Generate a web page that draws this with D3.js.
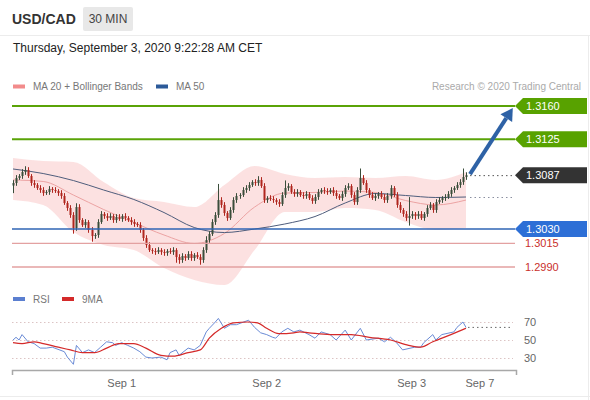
<!DOCTYPE html>
<html><head><meta charset="utf-8">
<script src="https://cdn.jsdelivr.net/npm/d3@7"></script>
<style>
html,body{margin:0;padding:0;background:#fff;}
svg{display:block;font-family:"Liberation Sans",Arial,sans-serif;}
</style></head><body>
<svg id="c" width="590" height="400"></svg>
<script>
// ---------- DATA ----------
const open0 = 1.30760;
const closes = [
1.30787,1.30840,1.30861,1.30903,1.30924,1.30861,1.30787,1.30766,1.30734,1.30713,
1.30681,1.30692,1.30724,1.30713,1.30702,1.30681,1.30650,1.30576,1.30523,1.30449,
1.30312,1.30533,1.30396,1.30343,1.30375,1.30291,1.30227,1.30238,1.30375,1.30460,
1.30438,1.30417,1.30438,1.30396,1.30428,1.30407,1.30438,1.30417,1.30396,1.30375,
1.30354,1.30343,1.30291,1.30206,1.30132,1.30079,1.30069,1.30058,1.30079,1.30058,
1.30048,1.30069,1.30058,1.30079,1.30005,1.29974,1.30016,1.29995,1.30037,1.29995,
1.30027,1.30005,1.29974,1.30079,1.30185,1.30248,1.30375,1.30449,1.30607,1.30555,
1.30470,1.30417,1.30502,1.30607,1.30650,1.30660,1.30713,1.30734,1.30766,1.30797,
1.30787,1.30819,1.30755,1.30607,1.30628,1.30618,1.30607,1.30586,1.30565,1.30660,
1.30734,1.30755,1.30692,1.30671,1.30692,1.30660,1.30650,1.30671,1.30628,1.30597,
1.30639,1.30692,1.30713,1.30702,1.30692,1.30713,1.30681,1.30650,1.30628,1.30671,
1.30734,1.30755,1.30660,1.30586,1.30713,1.30840,1.30787,1.30713,1.30660,1.30628,
1.30650,1.30671,1.30639,1.30607,1.30650,1.30734,1.30660,1.30555,1.30502,1.30460,
1.30417,1.30438,1.30460,1.30438,1.30460,1.30417,1.30460,1.30523,1.30555,1.30502,
1.30586,1.30607,1.30628,1.30639,1.30671,1.30713,1.30734,1.30766,1.30797,1.30850,
1.30870];
// wick lengths beyond the body, in pips
const wickUp = [
3,3,2,3,4,3,2,3,2,3, 3,2,3,2,3,2,3,3,2,3, 3,4,3,2,3,2,3,2,3,3, 2,3,3,2,3,3,2,3,2,3,
3,2,3,2,3,3,2,3,3,2, 3,2,3,3,2,3,3,2,3,3, 2,3,3,3,4,3,3,3,17,3, 3,2,3,3,3,2,3,3,3,2,
3,4,3,3,2,3,3,2,3,3, 8,3,2,3,3,2,3,3,2,3, 3,3,2,3,3,2,3,3,2,3, 3,3,2,3,3,10,3,3,2,3,
3,2,3,3,3,3,2,3,3,2, 3,20,3,2,3,3,2,3,3,2, 3,3,2,3,3,3,2,3,3,9, 3];
const wickDn = [
8,3,2,3,3,2,3,3,2,3, 3,2,3,3,2,3,3,2,3,3, 6,3,3,2,3,3,6,3,3,2, 3,3,2,3,3,2,3,3,2,3,
3,2,3,3,3,2,3,3,2,3, 3,3,2,3,6,4,3,3,2,3, 3,2,5,3,3,3,2,3,3,3, 3,3,2,3,3,3,2,3,3,2,
3,3,2,3,3,2,3,3,3,2, 3,3,2,3,3,2,3,3,2,3, 3,3,2,3,3,2,3,3,2,3, 3,2,3,3,3,3,2,3,3,2,
3,3,2,3,3,3,2,3,3,3, 3,8,3,4,3,2,3,3,2,3, 3,2,3,3,2,3,3,2,3,3, 3];
// indicator readings every 10 candles
const indIdx  = [0,10,20,30,40,50,60,70,80,90,100,110,120,130,140,150];
const ma20    = [1.30819,1.30803,1.30660,1.30507,1.30370,1.30238,1.30148,1.30254,1.30533,1.30681,1.30687,1.30702,1.30687,1.30602,1.30555,1.30607];
const bbUpper = [1.31051,1.31019,1.31009,1.30797,1.30628,1.30586,1.30533,1.30766,1.30966,1.30882,1.30840,1.30850,1.30840,1.30861,1.30819,1.30903];
const bbLower = [1.30607,1.30555,1.30269,1.30132,1.30079,1.29889,1.29763,1.29710,1.30079,1.30481,1.30481,1.30523,1.30502,1.30375,1.30291,1.30312];
const ma50    = [1.30935,1.30887,1.30813,1.30713,1.30613,1.30475,1.30317,1.30264,1.30301,1.30354,1.30433,1.30576,1.30676,1.30655,1.30634,1.30639];
// RSI panel
const rsiIdx = [0,1,2,3,5,7,9,11,13,17,18,20,21,23,25,27,29,31,33,34,36,38,40,42,44,46,49,51,52,54,55,58,60,62,64,65,67,68,70,72,74,78,80,82,84,86,87,89,91,93,95,98,100,102,105,107,110,112,115,117,121,123,125,127,129,133,135,136,139,140,142,146,147,149,150];
const rsiVal = [50,53,50,56,48,46,41,41,42,37,31,23,44,36,39,36,42,48,47,44,47,44,41,37,31,30,31,28,36,39,33,41,39,44,59,63,70,74,63,67,67,72,64,58,56,53,52,59,63,59,61,56,52,59,56,50,61,50,63,50,52,48,53,47,39,42,42,47,56,50,56,59,64,70,64];
const ma9Idx = [0,3,7,10,15,19,23,27,31,35,40,44,49,53,58,62,65,69,73,78,81,84,88,93,95,98,105,112,118,125,131,135,139,145,150];
const ma9Val = [47,46,48,46,42,39,36,36,41,46,46,41,33,32,36,39,52,63,69,70,69,63,57,58,59,58,56,56,53,50,44,42,48,56,63];
const rsiTicks = [70,50,30];
// key levels
const resistances = [1.3160, 1.3125];
const pivot = 1.3030;
const supports = [1.3015, 1.2990];
const lastPrice = 1.3087;
const target = 1.3160;
// date axis
const dateTickIdx = [36,84,132,154.6];
const dateTickLbl = ["Sep 1","Sep 2","Sep 3","Sep 7"];
const title = "USD/CAD", period = "30 MIN";
const stamp = "Thursday, September 3, 2020 9:22:28 AM CET";

// ---------- SCALES ----------
const svg = d3.select('#c');
const x = d3.scaleLinear().domain([0,150]).range([13,466]);
const y = d3.scaleLinear().domain([1.2990,1.3160]).range([267,106]);
const ry = d3.scaleLinear().domain([30,70]).range([358,322]);
const fmt = d3.format('.4f');

// ---------- FRAME / HEADER ----------
svg.append('rect').attr('width',590).attr('height',400).attr('fill','#fff');
svg.append('line').attr('x1',0).attr('x2',590).attr('y1',35.5).attr('y2',35.5).attr('stroke','#ececec');
svg.append('line').attr('x1',588.5).attr('x2',588.5).attr('y1',36).attr('y2',400).attr('stroke','#ececec');
svg.append('line').attr('x1',0).attr('x2',590).attr('y1',396.5).attr('y2',396.5).attr('stroke','#ececec');
svg.append('text').attr('x',12).attr('y',24).attr('font-size',14).attr('font-weight','bold').attr('fill','#333').text(title);
svg.append('rect').attr('x',83).attr('y',7).attr('width',50).attr('height',24).attr('rx',2).attr('fill','#e8e8e8');
svg.append('text').attr('x',108).attr('y',23).attr('text-anchor','middle').attr('font-size',12).attr('fill','#444').text(period);
svg.append('text').attr('x',13).attr('y',52).attr('font-size',12).attr('fill','#222').text(stamp);

// legend
const lg = [{c:'#f28b8b',t:'MA 20 + Bollinger Bands',x:13},{c:'#2c5a99',t:'MA 50',x:156}];
lg.forEach(d=>{
  svg.append('rect').attr('x',d.x).attr('y',84.5).attr('width',12).attr('height',4).attr('fill',d.c);
  svg.append('text').attr('x',d.x+20).attr('y',90).attr('font-size',10).attr('fill','#777').text(d.t);
});
svg.append('text').attr('x',581).attr('y',90).attr('text-anchor','end').attr('font-size',10).attr('fill','#aaa').text('Research \u00A9 2020 Trading Central');

// ---------- PRICE PANEL ----------
svg.append('clipPath').attr('id','pc').append('rect').attr('x',0).attr('y',95).attr('width',590).attr('height',194);
const pg = svg.append('g').attr('clip-path','url(#pc)');
const ind = indIdx.map((i,k)=>({i, m20:ma20[k], up:bbUpper[k], lo:bbLower[k], m50:ma50[k]}));
pg.append('path').datum(ind).attr('fill','#fcdede').attr('opacity',0.9)
  .attr('d',d3.area().x(d=>x(d.i)).y0(d=>y(d.lo)).y1(d=>y(d.up)).curve(d3.curveMonotoneX));
pg.append('path').datum(ind).attr('fill','none').attr('stroke','#eca3a3').attr('stroke-width',1)
  .attr('d',d3.line().x(d=>x(d.i)).y(d=>y(d.m20)).curve(d3.curveMonotoneX));
pg.append('path').datum(ind).attr('fill','none').attr('stroke','#4f5d7c').attr('stroke-width',1)
  .attr('d',d3.line().x(d=>x(d.i)).y(d=>y(d.m50)).curve(d3.curveMonotoneX));

// level lines
const lineX1 = 12, lineX2 = 515;
resistances.forEach(p=>{
  svg.append('line').attr('x1',lineX1).attr('x2',lineX2).attr('y1',y(p)).attr('y2',y(p)).attr('stroke','#5aa307').attr('stroke-width',2);
});
svg.append('line').attr('x1',lineX1).attr('x2',lineX2).attr('y1',y(pivot)).attr('y2',y(pivot)).attr('stroke','#2f65b5').attr('stroke-width',1.5);
supports.forEach(p=>{
  svg.append('line').attr('x1',lineX1).attr('x2',lineX2).attr('y1',y(p)).attr('y2',y(p)).attr('stroke','#e3a1a1').attr('stroke-width',1.3);
  svg.append('text').attr('x',525).attr('y',y(p)+4).attr('font-size',11).attr('fill','#c9302c').text(fmt(p));
});

// candles
const candles = closes.map((c,i)=>{
  const o = i===0 ? open0 : closes[i-1];
  return {i,o,c,h:Math.max(o,c)+wickUp[i]*1e-4,l:Math.min(o,c)-wickDn[i]*1e-4};
});
const cg = pg.append('g');
cg.selectAll('line.w').data(candles).join('line').attr('class','w')
  .attr('x1',d=>Math.round(x(d.i))+0.5).attr('x2',d=>Math.round(x(d.i))+0.5)
  .attr('y1',d=>y(d.h)).attr('y2',d=>y(d.l))
  .attr('stroke',d=>d.c>=d.o?'#3a4d3a':'#b0261e').attr('stroke-width',1);
cg.selectAll('rect.b').data(candles).join('rect').attr('class','b')
  .attr('x',d=>Math.round(x(d.i))-0.5).attr('width',2)
  .attr('y',d=>y(Math.max(d.o,d.c))).attr('height',d=>Math.max(1,Math.abs(y(d.o)-y(d.c))))
  .attr('fill',d=>d.c>=d.o?'#3a4d3a':'#b0261e');

// dotted guides from last values
const lastX = x(150)+4;
svg.append('line').attr('x1',lastX).attr('x2',515).attr('y1',y(lastPrice)+0.5).attr('y2',y(lastPrice)+0.5)
  .attr('stroke','#555').attr('stroke-dasharray','1.5,3');
svg.append('line').attr('x1',lastX).attr('x2',513).attr('y1',y(ma50[ma50.length-1])+0.5).attr('y2',y(ma50[ma50.length-1])+0.5)
  .attr('stroke','#8a8fa0').attr('stroke-dasharray','1.5,3');

// tags
function tag(p, fill){
  const yy = y(p);
  svg.append('path').attr('fill',fill)
    .attr('d',`M515,${yy} L523,${yy-8} L587,${yy-8} L587,${yy+8} L523,${yy+8} Z`);
  svg.append('text').attr('x',526).attr('y',yy+4).attr('font-size',11).attr('fill','#fff').text(fmt(p));
}
resistances.forEach(p=>tag(p,'#58a200'));
tag(lastPrice,'#333333');
tag(pivot,'#2d6fd6');

// arrow
const ax1 = x(150)+4, ay1 = y(lastPrice)-1;
const ax2 = x(165.5), ay2 = y(target)+2;
const ang = Math.atan2(ay2-ay1, ax2-ax1);
const hl = 12, hw = 7;
const bx = ax2 - hl*Math.cos(ang), by = ay2 - hl*Math.sin(ang);
svg.append('line').attr('x1',ax1).attr('y1',ay1).attr('x2',bx).attr('y2',by)
  .attr('stroke','#2e62a6').attr('stroke-width',4);
svg.append('path').attr('fill','#2e62a6')
  .attr('d',`M${ax2},${ay2} L${bx+hw*Math.sin(ang)},${by-hw*Math.cos(ang)} L${bx-hw*Math.sin(ang)},${by+hw*Math.cos(ang)} Z`);

// ---------- RSI PANEL ----------
const rl = [{c:'#5b7fd0',t:'RSI',x:13},{c:'#d42a2a',t:'9MA',x:62}];
rl.forEach(d=>{
  svg.append('rect').attr('x',d.x).attr('y',297).attr('width',12).attr('height',4).attr('fill',d.c);
  svg.append('text').attr('x',d.x+20).attr('y',303).attr('font-size',10).attr('fill','#777').text(d.t);
});
rsiTicks.forEach(v=>{
  svg.append('line').attr('x1',12).attr('x2',513).attr('y1',ry(v)+0.5).attr('y2',ry(v)+0.5)
    .attr('stroke','#dcc4c4').attr('stroke-dasharray','1.5,2.5');
  svg.append('text').attr('x',524).attr('y',ry(v)+4).attr('font-size',11).attr('fill','#666').text(v);
});
const rsiPts = rsiIdx.map((i,k)=>({i,v:rsiVal[k]}));
const maPts = ma9Idx.map((i,k)=>({i,v:ma9Val[k]}));
svg.append('path').datum(rsiPts).attr('fill','none').attr('stroke','#6a8bd6').attr('stroke-width',1)
  .attr('d',d3.line().x(d=>x(d.i)).y(d=>ry(d.v)));
svg.append('path').datum(maPts).attr('fill','none').attr('stroke','#d42a2a').attr('stroke-width',1.2)
  .attr('d',d3.line().x(d=>x(d.i)).y(d=>ry(d.v)).curve(d3.curveMonotoneX));
svg.append('line').attr('x1',x(150)+2).attr('x2',513).attr('y1',ry(rsiVal[rsiVal.length-1])).attr('y2',ry(rsiVal[rsiVal.length-1]))
  .attr('stroke','#666').attr('stroke-dasharray','1.5,3');

// ---------- DATE AXIS ----------
const axG = svg.append('g').attr('transform','translate(0,370)');
axG.append('path').attr('d','M12.5,5V0.5H516.5V5').attr('fill','none').attr('stroke','#a8a8a8').attr('stroke-width',1.5);
dateTickIdx.forEach((i,k)=>{
  axG.append('text').attr('x',x(i)).attr('y',17).attr('text-anchor','middle').attr('font-size',11).attr('fill','#666').text(dateTickLbl[k]);
});
</script></body></html>
